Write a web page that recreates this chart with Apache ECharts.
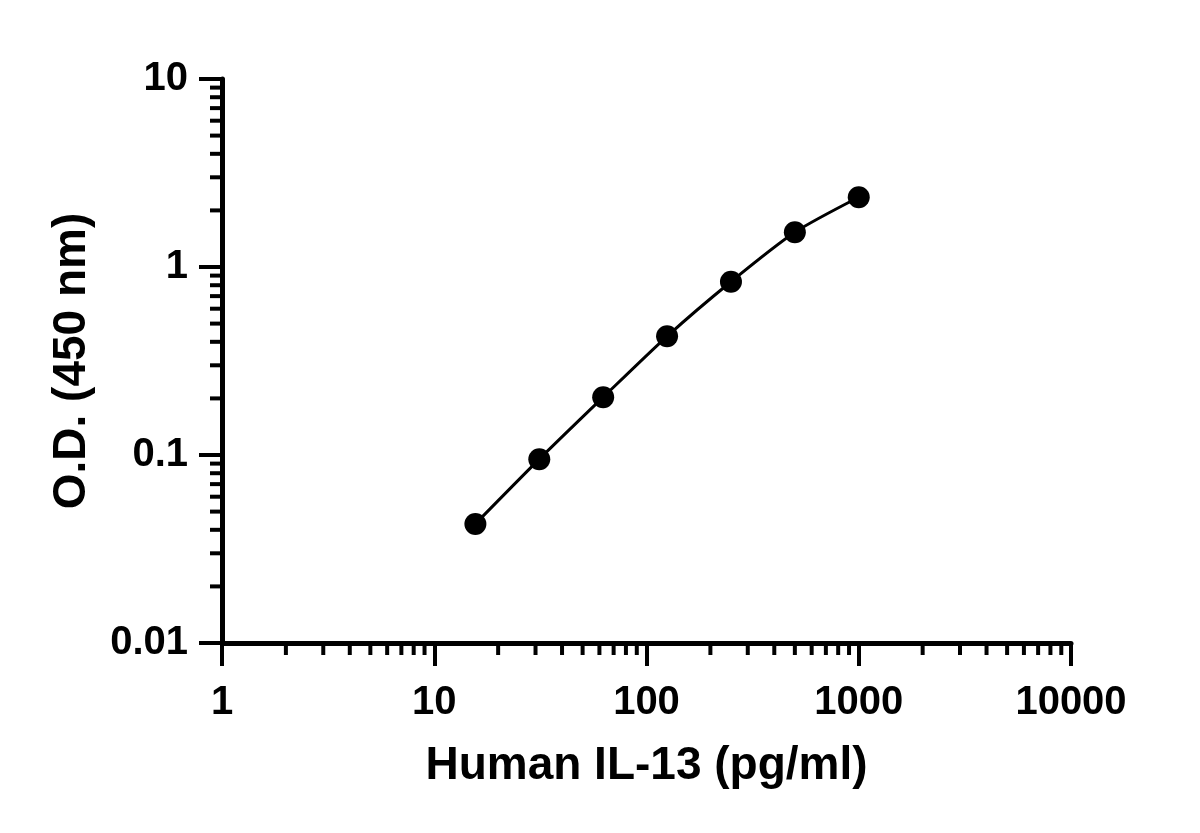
<!DOCTYPE html>
<html>
<head>
<meta charset="utf-8">
<script src="https://cdn.jsdelivr.net/npm/echarts@6/dist/echarts.min.js"></script>
<style>
html,body{margin:0;padding:0;background:#fff;}
#chart{width:1200px;height:833px;}
</style>
</head>
<body>
<div id="chart"></div>
<script>
// ---- data ----
const concentrations = [15.625, 31.25, 62.5, 125, 250, 500, 1000];
const odValues = [0.043, 0.095, 0.203, 0.428, 0.835, 1.53, 2.35];

const xMin = 1, xMax = 10000;
const yMin = 0.01, yMax = 10;
const xMinorTicks = [2,3,4,5,6,7,8,9, 20,30,40,50,60,70,80,90, 200,300,400,500,600,700,800,900, 2000,3000,4000,5000,6000,7000,8000,9000];
const yMinorTicks = [0.02,0.03,0.04,0.05,0.06,0.07,0.08,0.09, 0.2,0.3,0.4,0.5,0.6,0.7,0.8,0.9, 2,3,4,5,6,7,8,9];

const xTitle = 'Human IL-13 (pg/ml)';
const yTitle = 'O.D. (450 nm)';

// ---- chart ----
const FONT = '"Liberation Sans", Arial, sans-serif';
const chart = echarts.init(document.getElementById('chart'));

const labelStyle = { fontSize: 40, fontWeight: 'bold', color: '#000', fontFamily: FONT };
const fmt = v => String(+(+v).toPrecision(6));

const option = {
  animation: false,
  backgroundColor: '#fff',
  grid: { left: 222, right: 129, top: 79, bottom: 190 },
  xAxis: {
    type: 'log', logBase: 10, min: xMin, max: xMax,
    name: xTitle, nameLocation: 'middle', nameGap: 100,
    nameTextStyle: { fontSize: 46, fontWeight: 'bold', color: '#000', fontFamily: FONT },
    axisLine: { show: true, lineStyle: { color: '#000', width: 5 } },
    axisTick: { show: true, length: 23, lineStyle: { color: '#000', width: 4 } },
    axisLabel: Object.assign({ margin: 40, formatter: fmt }, labelStyle),
    splitLine: { show: false },
    minorTick: { show: false }
  },
  yAxis: {
    type: 'log', logBase: 10, min: yMin, max: yMax,
    name: yTitle, nameLocation: 'middle', nameGap: 127,
    nameTextStyle: { fontSize: 46, fontWeight: 'bold', color: '#000', fontFamily: FONT },
    axisLine: { show: true, lineStyle: { color: '#000', width: 5 } },
    axisTick: { show: true, length: 23, lineStyle: { color: '#000', width: 4 } },
    axisLabel: Object.assign({ margin: 34, formatter: fmt }, labelStyle),
    splitLine: { show: false },
    minorTick: { show: false }
  },
  series: [
    {
      type: 'custom',
      clip: false,
      silent: true,
      data: xMinorTicks.map(v => [v, yMin]),
      renderItem: function (params, api) {
        const p = api.coord([api.value(0), api.value(1)]);
        return { type: 'line', shape: { x1: p[0], y1: p[1], x2: p[0], y2: p[1] + 12 },
                 style: { stroke: '#000', lineWidth: 4 } };
      },
      z: 1
    },
    {
      type: 'custom',
      clip: false,
      silent: true,
      data: yMinorTicks.map(v => [xMin, v]),
      renderItem: function (params, api) {
        const p = api.coord([api.value(0), api.value(1)]);
        return { type: 'line', shape: { x1: p[0], y1: p[1], x2: p[0] - 12, y2: p[1] },
                 style: { stroke: '#000', lineWidth: 4 } };
      },
      z: 1
    },
    {
      type: 'line',
      data: concentrations.map((c, i) => [c, odValues[i]]),
      smooth: 0.25,
      symbol: 'circle',
      symbolSize: 22,
      lineStyle: { color: '#000', width: 3 },
      itemStyle: { color: '#000' },
      z: 3
    }
  ]
};
chart.setOption(option);
</script>
</body>
</html>
